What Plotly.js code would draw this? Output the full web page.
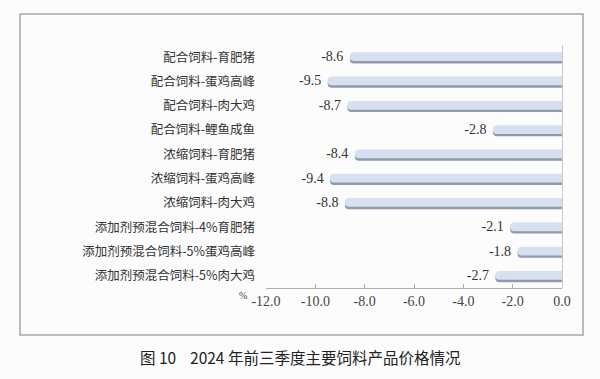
<!DOCTYPE html>
<html>
<head>
<meta charset="utf-8">
<script src="https://cdn.plot.ly/plotly-3.0.1.min.js"></script>
<style>
html,body{margin:0;padding:0;background:#fcfcfd;}
#chart{width:600px;height:379px;}
</style>
</head>
<body>
<div id="chart"></div>
<script>
var categories = [
  "配合饲料-育肥猪",
  "配合饲料-蛋鸡高峰",
  "配合饲料-肉大鸡",
  "配合饲料-鲤鱼成鱼",
  "浓缩饲料-育肥猪",
  "浓缩饲料-蛋鸡高峰",
  "浓缩饲料-肉大鸡",
  "添加剂预混合饲料-4%育肥猪",
  "添加剂预混合饲料-5%蛋鸡高峰",
  "添加剂预混合饲料-5%肉大鸡"
];
var values = [-8.6, -9.5, -8.7, -2.8, -8.4, -9.4, -8.8, -2.1, -1.8, -2.7];
var tickValues = [-12, -10, -8, -6, -4, -2, 0];
var tickLabels = ["-12.0", "-10.0", "-8.0", "-6.0", "-4.0", "-2.0", "0.0"];
var labels = values.map(function (v) { return v.toFixed(1) + "\u00a0"; });

var serif = "Liberation Serif, DejaVu Serif, serif";
var cjk = "Noto Sans CJK SC";

var shadow = {
  type: "bar", orientation: "h",
  x: values, y: categories,
  width: 0.36, offset: -0.1,
  marker: {color: "#8f9aab", cornerradius: 4, line: {width: 0}},
  hoverinfo: "skip", showlegend: false
};
var main = {
  type: "bar", orientation: "h",
  x: values, y: categories,
  width: 0.36, offset: -0.2,
  marker: {color: "#d6e0f0", cornerradius: 4, line: {width: 0}},
  text: labels, textposition: "outside", cliponaxis: false,
  constraintext: "none",
  textfont: {family: serif, size: 14, color: "#333333"},
  showlegend: false
};

var layout = {
  width: 600, height: 379,
  margin: {l: 266, r: 38, t: 45, b: 91},
  paper_bgcolor: "#fcfcfd",
  plot_bgcolor: "rgba(0,0,0,0)",
  barmode: "overlay",
  showlegend: false,
  xaxis: {
    range: [-12, 0],
    tickvals: tickValues, ticktext: tickLabels,
    ticks: "inside", ticklen: 4, tickcolor: "#a8a8a8", tickwidth: 1,
    showline: true, linecolor: "#b0b0b0", linewidth: 1,
    showgrid: false,
    zeroline: true, zerolinecolor: "#c8c8c8", zerolinewidth: 1,
    tickfont: {family: serif, size: 14, color: "#444444"},
    fixedrange: true
  },
  yaxis: {
    type: "category",
    autorange: "reversed",
    showgrid: false, zeroline: false, showline: false,
    ticks: "", ticklabelstandoff: 10,
    tickfont: {family: cjk, size: 12.5, color: "#333333"},
    fixedrange: true
  },
  shapes: [{
    type: "rect", xref: "paper", yref: "paper",
    x0: -0.831, x1: 1.071, y0: -0.193, y1: 1.128,
    line: {color: "#a6a6a6", width: 1.5},
    fillcolor: "rgba(0,0,0,0)", layer: "below"
  }],
  annotations: [
    {
      text: "%", xref: "paper", yref: "paper",
      x: -0.077, y: -0.03, xanchor: "center", yanchor: "middle", showarrow: false,
      font: {family: serif, size: 10, color: "#444444"}
    },
    {
      text: "图 10    2024 年前三季度主要饲料产品价格情况",
      xref: "paper", yref: "paper",
      x: 0.115, y: -0.284, xanchor: "center", yanchor: "middle", showarrow: false,
      font: {family: cjk, size: 15.5, color: "#222222"}
    }
  ]
};

Plotly.newPlot("chart", [shadow, main], layout, {displayModeBar: false, staticPlot: true});
</script>
</body>
</html>
